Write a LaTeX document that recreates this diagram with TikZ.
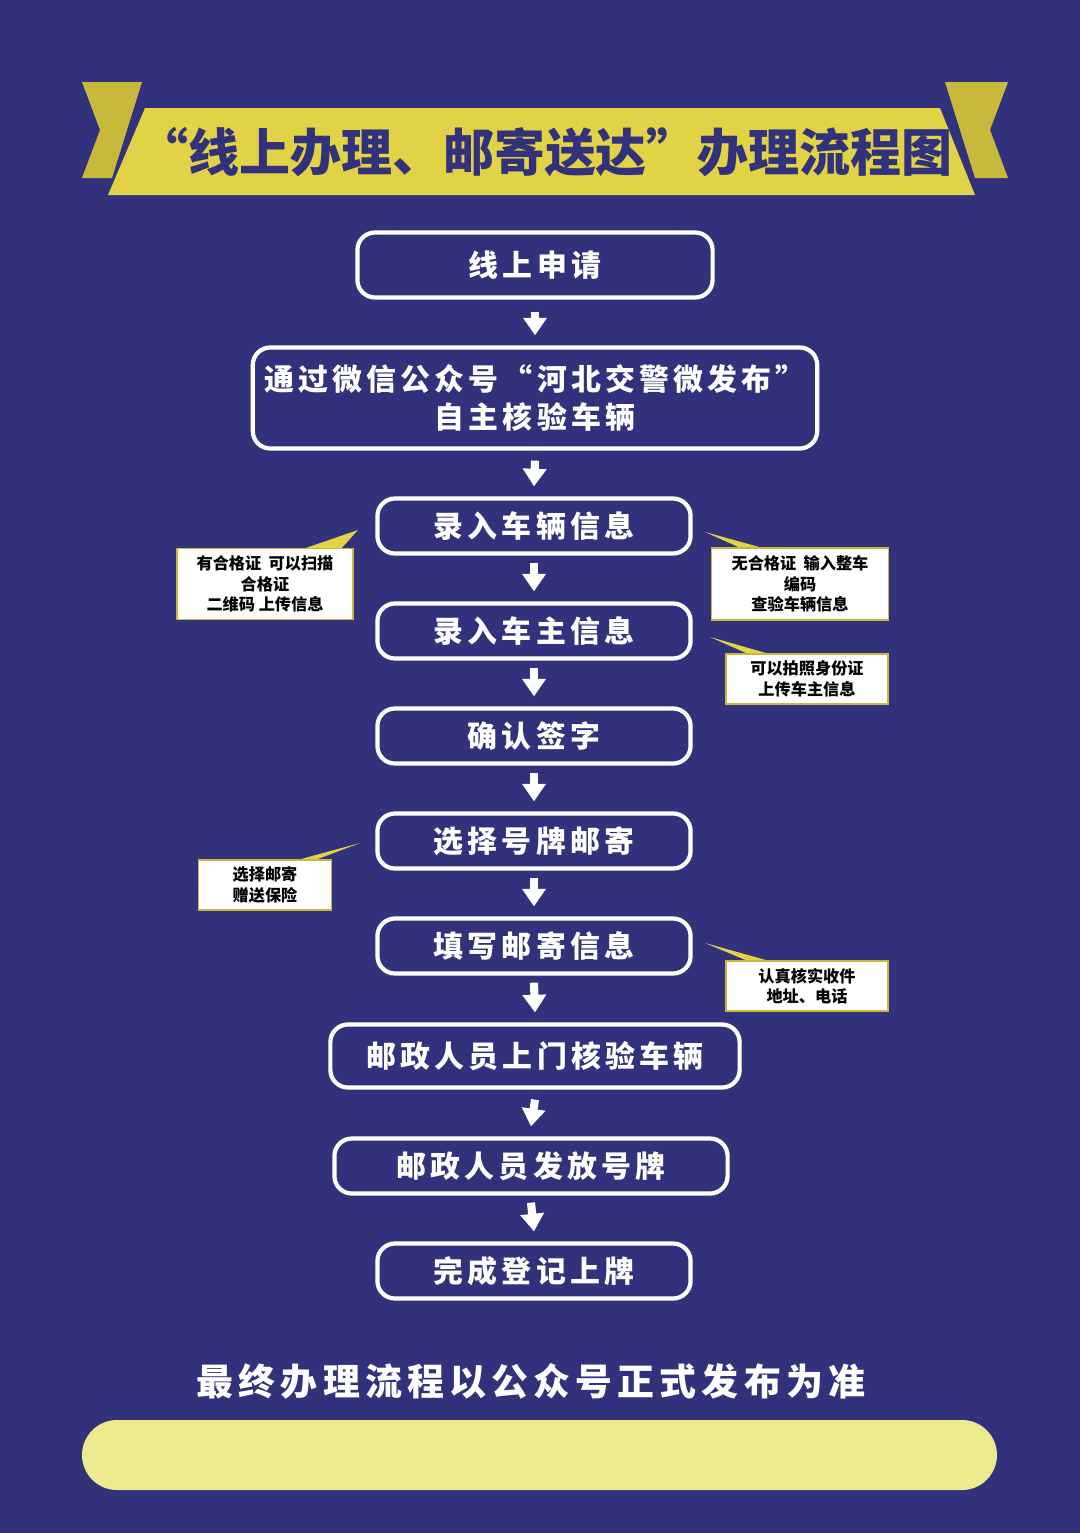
\documentclass[tikz,border=0pt]{standalone}
\usepackage{fontspec}
\newfontfamily\cjk{Noto Sans CJK SC}
\newfontfamily\cjkwide{Noto Sans CJK SC}[LetterSpace=14]
\usetikzlibrary{arrows.meta, positioning}
\definecolor{bgblue}{RGB}{50,50,124}
\definecolor{bannergold}{RGB}{226,210,70}
\definecolor{tailgold}{RGB}{200,185,60}
\definecolor{pillyellow}{RGB}{236,234,140}

\begin{document}
\begin{tikzpicture}[x=0.01cm, y=-0.01cm]
    % Styles
    \tikzset{
      stepbox/.style={draw=white, line width=1.2pt, rounded corners=5pt, text=white, font=\cjkwide\bfseries\fontsize{8.5}{11}\selectfont, align=center, minimum height=0.55cm},
      note/.style={draw=tailgold, fill=white, line width=0.5pt, font=\cjk\bfseries\fontsize{4.6}{5.8}\selectfont, align=center, inner sep=2pt},
      flow/.style={draw=white, line width=2.3pt, -{Triangle[width=6.5pt,length=5pt]}},
      pointer/.style={fill=bannergold}
    }
    \fill[bgblue] (0,0) rectangle (1080,1533);

    % Banner
    \fill[tailgold] (82,82) -- (142,82) -- (112,178) -- (82,178) -- (100,130) -- cycle;
    \fill[tailgold] (1008,82) -- (945,82) -- (975,178) -- (1008,178) -- (990,130) -- cycle;
    \fill[bannergold] (145,108) -- (940,108) -- (975,195) -- (108,195) -- cycle;
    \node[font=\cjk\bfseries\fontsize{14.5}{16}\selectfont, text=bgblue] (title) at (545,152) {“线上办理、邮寄送达”办理流程图};

    % Nodes
    \node[stepbox, minimum width=3.55cm, minimum height=0.65cm] (apply) at (535,265) {线上申请};
    \node[stepbox, minimum width=5.55cm, minimum height=1.01cm] (check) at (535,398) {通过微信公众号“河北交警微发布”\\自主核验车辆};
    \node[stepbox, minimum width=3.13cm] (car) at (534,526) {录入车辆信息};
    \node[stepbox, minimum width=3.13cm] (owner) at (534,631) {录入车主信息};
    \node[stepbox, minimum width=3.13cm] (sign) at (534,736) {确认签字};
    \node[stepbox, minimum width=3.13cm] (plate) at (534,841) {选择号牌邮寄};
    \node[stepbox, minimum width=3.13cm] (mail) at (534,946) {填写邮寄信息};
    \node[stepbox, minimum width=4.09cm, minimum height=0.63cm] (visit) at (535,1056) {邮政人员上门核验车辆};
    \node[stepbox, minimum width=3.93cm] (issue) at (531,1166) {邮政人员发放号牌};
    \node[stepbox, minimum width=3.13cm] (done) at (534,1271) {完成登记上牌};

    % Notes
    \fill[pointer] (300,550) -- (358,530) -- (340,550) -- cycle;
    \node[note, minimum width=1.76cm, minimum height=0.71cm] (n1) at (265,584) {有合格证\ \ 可以扫描\\合格证\\二维码 上传信息};
    \fill[pointer] (705,532) -- (770,550) -- (745,550) -- cycle;
    \node[note, minimum width=1.77cm, minimum height=0.72cm] (n2) at (800,584) {无合格证\ \ 输入整车\\编码\\查验车辆信息};
    \fill[pointer] (710,637) -- (780,657) -- (755,657) -- cycle;
    \node[note, minimum width=1.62cm, minimum height=0.48cm] (n3) at (807,679) {可以拍照身份证\\上传车主信息};
    \fill[pointer] (360,843) -- (290,862) -- (310,862) -- cycle;
    \node[note, minimum width=1.33cm, minimum height=0.49cm] (n4) at (265,885) {选择邮寄\\赠送保险};
    \fill[pointer] (705,943) -- (780,964) -- (755,964) -- cycle;
    \node[note, minimum width=1.62cm, minimum height=0.49cm] (n5) at (807,986) {认真核实收件\\地址、电话};

    % Paths
    \draw[flow] ([yshift=-0.12cm]apply.south) -- ([yshift=0.1cm]check.north);
    \draw[flow] ([yshift=-0.1cm]check.south) -- ([yshift=0.1cm]car.north);
    \draw[flow] ([yshift=-0.07cm]car.south) -- ([yshift=0.1cm]owner.north);
    \draw[flow] ([yshift=-0.07cm]owner.south) -- ([yshift=0.1cm]sign.north);
    \draw[flow] ([yshift=-0.07cm]sign.south) -- ([yshift=0.1cm]plate.north);
    \draw[flow] ([yshift=-0.07cm]plate.south) -- ([yshift=0.1cm]mail.north);
    \draw[flow] ([yshift=-0.07cm]mail.south) -- ([yshift=0.1cm]visit.north);
    \draw[flow] ([yshift=-0.1cm]visit.south) -- ([yshift=0.1cm]issue.north);
    \draw[flow] ([yshift=-0.07cm]issue.south) -- ([yshift=0.1cm]done.north);

    % Footer
    \node[font=\cjkwide\bfseries\fontsize{10.5}{12}\selectfont, text=white] (footer) at (531,1381) {最终办理流程以公众号正式发布为准};
    \fill[pillyellow, rounded corners=0.35cm] (82,1420) rectangle (997,1490);
\end{tikzpicture}
\end{document}
